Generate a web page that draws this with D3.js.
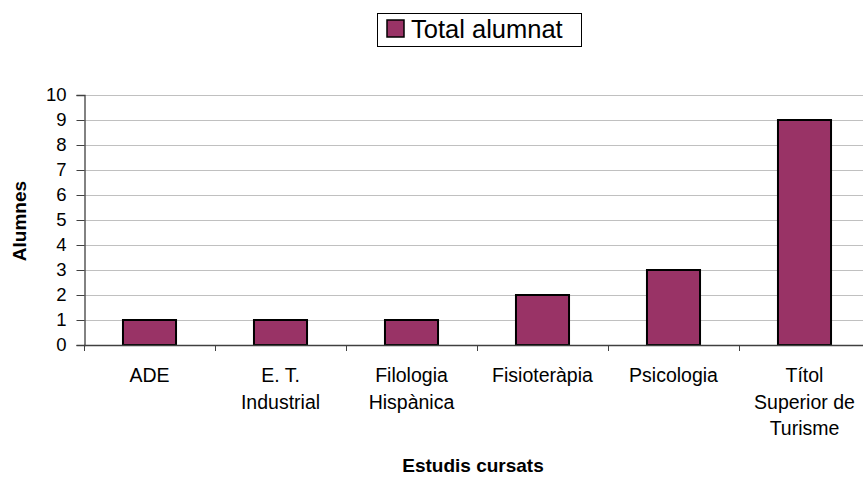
<!DOCTYPE html>
<html>
<head>
<meta charset="utf-8">
<script src="https://d3js.org/d3.v7.min.js"></script>
<style>
  body { margin: 0; background: #fff; }
  text { font-family: "Liberation Sans", Arial, sans-serif; fill: #000; }
</style>
</head>
<body>
<svg id="chart" width="863" height="477"></svg>
<script>
// data
var categories = [["ADE"], ["E. T.", "Industrial"], ["Filologia", "Hispànica"], ["Fisioteràpia"], ["Psicologia"], ["Títol", "Superior de", "Turisme"]];
var values = [1, 1, 1, 2, 3, 9];
var yTicks = [0, 1, 2, 3, 4, 5, 6, 7, 8, 9, 10];
var seriesName = "Total alumnat";
var xTitle = "Estudis cursats";
var yTitle = "Alumnes";

var svg = d3.select("#chart");
var plotL = 84, plotR = 870, plotT = 95, plotB = 345;

var x = d3.scaleBand().domain(d3.range(categories.length)).range([plotL, plotR]).padding(0);
var y = d3.scaleLinear().domain([0, 10]).range([plotB, plotT]);

// gridlines
svg.append("g").selectAll("line").data(yTicks.filter(d => d > 0)).enter()
  .append("line")
  .attr("x1", plotL).attr("x2", plotR)
  .attr("y1", d => y(d) + 0.5).attr("y2", d => y(d) + 0.5)
  .attr("stroke", "#c0c0c0").attr("stroke-width", 1);

// bars
var bw = x.bandwidth() * 0.405;
svg.append("g").selectAll("rect").data(values).enter()
  .append("rect")
  .attr("x", (d, i) => x(i) + x.bandwidth() / 2 - bw / 2)
  .attr("y", d => y(d))
  .attr("width", bw)
  .attr("height", d => y(0) - y(d))
  .attr("fill", "#993366")
  .attr("stroke", "#000").attr("stroke-width", 2);

// y axis
var yAxis = svg.append("g").attr("transform", "translate(" + (plotL + 0.5) + ",0)")
  .call(d3.axisLeft(y).tickValues(yTicks).tickSize(8).tickPadding(10).tickFormat(d3.format("d")));
yAxis.select(".domain").attr("stroke", "#404040").attr("stroke-width", 1.3);
yAxis.selectAll(".tick line").attr("stroke", "#404040");
yAxis.selectAll("text").style("font-size", "18.5px").style("font-family", "'Liberation Sans', Arial, sans-serif").attr("fill", "#000");

// x axis line + ticks at band boundaries
svg.append("line").attr("x1", plotL).attr("x2", plotR).attr("y1", plotB + 0.5).attr("y2", plotB + 0.5)
  .attr("stroke", "#404040").attr("stroke-width", 1.3);
svg.append("g").selectAll("line").data(d3.range(categories.length + 1)).enter()
  .append("line")
  .attr("x1", d => plotL + d * x.step() + 0.5).attr("x2", d => plotL + d * x.step() + 0.5)
  .attr("y1", plotB).attr("y2", plotB + 6)
  .attr("stroke", "#404040");

// category labels
var lab = svg.append("g").selectAll("text").data(categories).enter()
  .append("text")
  .attr("text-anchor", "middle")
  .style("font-size", "19.5px");
lab.each(function(d, i) {
  var t = d3.select(this);
  d.forEach(function(line, j) {
    t.append("tspan").attr("x", x(i) + x.bandwidth() / 2).attr("y", 382 + j * 26.6).text(line);
  });
});

// axis titles
svg.append("text").attr("x", 473).attr("y", 472).attr("text-anchor", "middle")
  .style("font-size", "19px").style("font-weight", "bold").text(xTitle);
svg.append("text").attr("transform", "translate(26,221) rotate(-90)").attr("text-anchor", "middle")
  .style("font-size", "19px").style("font-weight", "bold").text(yTitle);

// legend
var lg = svg.append("g");
lg.append("rect").attr("x", 377.5).attr("y", 13.5).attr("width", 204).attr("height", 33)
  .attr("fill", "#fff").attr("stroke", "#000").attr("stroke-width", 1);
lg.append("rect").attr("x", 387).attr("y", 20).attr("width", 17).attr("height", 17)
  .attr("fill", "#993366").attr("stroke", "#000").attr("stroke-width", 1.5);
lg.append("text").attr("x", 411).attr("y", 38).style("font-size", "25.5px").text(seriesName);
</script>
</body>
</html>
